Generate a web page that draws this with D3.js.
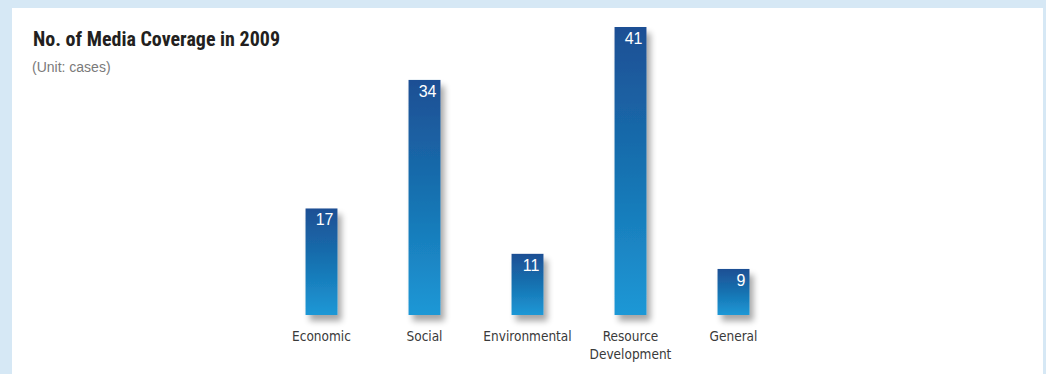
<!DOCTYPE html>
<html>
<head>
<meta charset="utf-8">
<script src="https://cdn.jsdelivr.net/npm/d3@7"></script>
<style>
  html, body { margin: 0; padding: 0; background: #d6e8f5; }
  svg { display: block; }
</style>
</head>
<body>
<div id="chart"></div>
<script>
var categories = ['Economic', 'Social', 'Environmental', 'Resource\nDevelopment', 'General'];
var cases = [17, 34, 11, 41, 9];
var chartTitle = 'No. of Media Coverage in 2009';
var unitLabel = '(Unit: cases)';

(function () {
	'use strict';

	var W = 1046, H = 374;
	var baseline = 315;

	var svg = d3.select('#chart')
		.append('svg')
		.attr('width', W)
		.attr('height', H);

	var defs = svg.append('defs');

	var grad = defs.append('linearGradient')
		.attr('id', 'barGrad')
		.attr('x1', 0).attr('y1', 0).attr('x2', 0).attr('y2', 1);
	grad.append('stop').attr('offset', '0%').attr('stop-color', '#1f4f94');
	grad.append('stop').attr('offset', '50%').attr('stop-color', '#1672b1');
	grad.append('stop').attr('offset', '100%').attr('stop-color', '#1e98d6');

	var shadow = defs.append('filter')
		.attr('id', 'shadow')
		.attr('x', '-50%').attr('y', '-20%')
		.attr('width', '200%').attr('height', '150%');
	shadow.append('feGaussianBlur')
		.attr('in', 'SourceAlpha')
		.attr('stdDeviation', 3);
	shadow.append('feOffset').attr('dx', 4).attr('dy', 6).attr('result', 'blur');
	shadow.append('feComponentTransfer')
		.append('feFuncA').attr('type', 'linear').attr('slope', 0.35);
	var merge = shadow.append('feMerge');
	merge.append('feMergeNode');
	merge.append('feMergeNode').attr('in', 'SourceGraphic');

	// white panel
	svg.append('rect')
		.attr('x', 12).attr('y', 8)
		.attr('width', 1031).attr('height', H - 8)
		.style('fill', '#ffffff');

	svg.append('text')
		.attr('x', 33).attr('y', 46)
		.style('font-family', '"Liberation Sans Narrow", "Roboto Condensed", "Liberation Sans", sans-serif')
		.style('font-weight', 'bold')
		.style('font-size', '20px')
		.style('fill', '#231f20')
		.text(chartTitle);

	svg.append('text')
		.attr('x', 32).attr('y', 72)
		.style('font-family', '"Liberation Sans Narrow", "Liberation Sans", sans-serif')
		.style('font-size', '14px')
		.style('fill', '#7a7a7a')
		.text(unitLabel);

	var x = d3.scaleBand()
		.domain(categories)
		.range([270, 785])
		.paddingInner(0.69)
		.paddingOuter(0.345);

	// zero sits below the visible baseline in the original artwork
	var y = d3.scaleLinear()
		.domain([0, 41])
		.range([337, 27]);

	var bars = svg.selectAll('.bar')
		.data(cases)
		.enter()
		.append('g')
		.attr('class', 'bar');

	bars.append('rect')
		.attr('x', function (d, i) { return x(categories[i]); })
		.attr('y', function (d) { return y(d); })
		.attr('width', x.bandwidth())
		.attr('height', function (d) { return baseline - y(d); })
		.style('fill', 'url(#barGrad)')
		.attr('filter', 'url(#shadow)');

	bars.append('text')
		.attr('x', function (d, i) { return x(categories[i]) + x.bandwidth() - 4; })
		.attr('y', function (d) { return y(d) + 17; })
		.style('text-anchor', 'end')
		.style('font-family', '"Liberation Sans", Arial, sans-serif')
		.style('font-size', '16px')
		.style('fill', '#ffffff')
		.text(function (d) { return d; });

	var labels = svg.selectAll('.cat')
		.data(categories)
		.enter()
		.append('text')
		.attr('class', 'cat')
		.attr('x', function (d) { return x(d) + x.bandwidth() / 2; })
		.attr('y', 341)
		.style('text-anchor', 'middle')
		.style('font-family', '"DejaVu Sans Condensed", "Liberation Sans", sans-serif')
		.style('font-size', '13.5px')
		.style('fill', '#3a3a3a');

	labels.selectAll('tspan')
		.data(function (d) { return d.split('\n'); })
		.enter()
		.append('tspan')
		.attr('x', function () { return +d3.select(this.parentNode).attr('x'); })
		.attr('dy', function (d, i) { return i === 0 ? 0 : 18; })
		.text(function (d) { return d; });
})();
</script>
</body>
</html>
